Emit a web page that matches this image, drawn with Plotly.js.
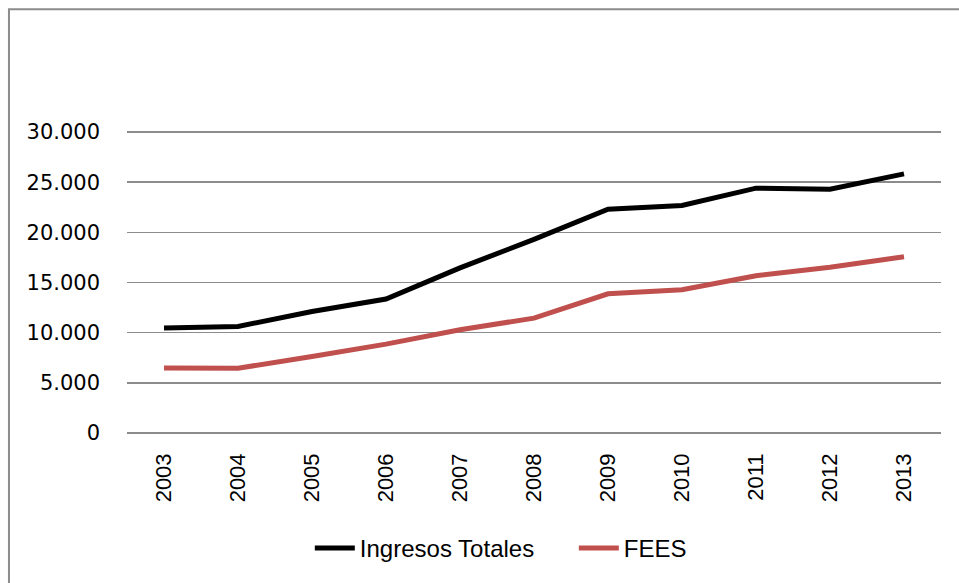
<!DOCTYPE html>
<html>
<head>
<meta charset="utf-8">
<script src="https://cdn.plot.ly/plotly-3.0.1.min.js"></script>
<style>
html,body{margin:0;padding:0;background:#fff;overflow:hidden;}
#chart{width:959px;height:583px;}
</style>
</head>
<body>
<div id="chart"></div>
<script>
const years = ["2003","2004","2005","2006","2007","2008","2009","2010","2011","2012","2013"];
const ingresosTotales = [10460, 10620, 12110, 13350, 16460, 19300, 22310, 22670, 24400, 24300, 25830];
const fees = [6470, 6450, 7630, 8860, 10290, 11450, 13870, 14270, 15670, 16520, 17560];
const yTickVals = [0, 5000, 10000, 15000, 20000, 25000, 30000];
const yTickText = ["0", "5.000", "10.000", "15.000", "20.000", "25.000", "30.000"];

const FONT = "Liberation Sans, Arial, sans-serif";
const YFONT = "DejaVu Sans, sans-serif";

const traces = [
  {x: years, y: ingresosTotales, name: "Ingresos Totales", type: "scatter", mode: "lines",
   line: {color: "#000000", width: 5}},
  {x: years, y: fees, name: "FEES", type: "scatter", mode: "lines",
   line: {color: "#C0504D", width: 5}}
];

const layout = {
  width: 959, height: 583,
  margin: {l: 127, r: 18, t: 129, b: 147},
  paper_bgcolor: "#ffffff", plot_bgcolor: "#ffffff",
  font: {family: FONT, color: "#000000", size: 22},
  showlegend: true,
  legend: {orientation: "h", x: 0.2246, xanchor: "left", y: -0.366, yanchor: "middle",
           font: {family: FONT, size: 24, color: "#000"}, itemwidth: 40, entrywidth: 209,
           bgcolor: "rgba(0,0,0,0)"},
  xaxis: {type: "category", range: [-0.5, 10.5], tickangle: -90, showgrid: false,
          zeroline: false, showline: false, ticks: "", ticklabelstandoff: 12,
          tickfont: {family: FONT, size: 22, color: "#000"}, fixedrange: true},
  yaxis: {range: [-300, 30300], tickvals: yTickVals, ticktext: yTickText,
          showgrid: true, gridcolor: "#8c8c8c", gridwidth: 1.5, zeroline: false,
          showline: false, ticks: "", ticklabelstandoff: 26,
          tickfont: {family: YFONT, size: 21, color: "#000"}, fixedrange: true},
  shapes: [
    {type: "rect", xref: "paper", yref: "paper", x0: -0.145, x1: 1.1, y0: -0.7, y1: 1.39,
     line: {color: "#8c8c8c", width: 2}, fillcolor: "rgba(0,0,0,0)", layer: "below"}
  ]
};

Plotly.newPlot("chart", traces, layout, {displayModeBar: false, staticPlot: true});
</script>
</body>
</html>
